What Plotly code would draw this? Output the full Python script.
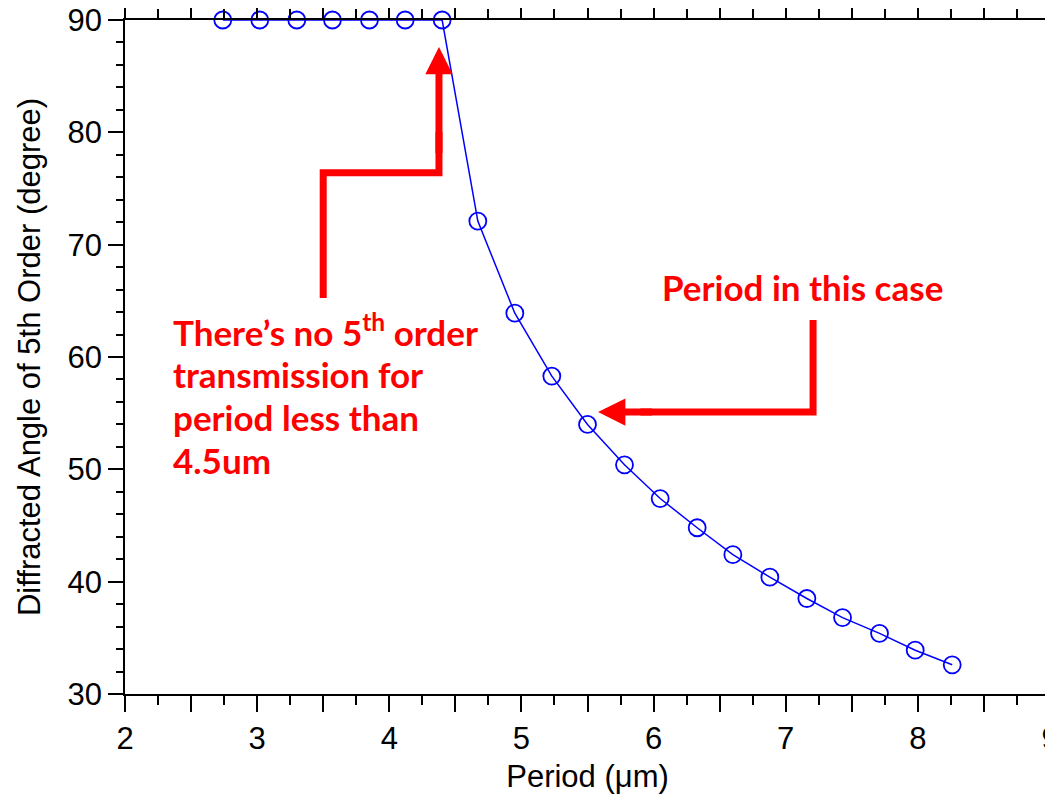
import plotly.graph_objects as go

# ── Data ────────────────────────────────────────────────────────────────────
period_um = [2.74, 3.02, 3.30, 3.57, 3.85, 4.12, 4.40, 4.67, 4.95, 5.23, 5.50,
             5.78, 6.05, 6.33, 6.60, 6.88, 7.16, 7.43, 7.71, 7.98, 8.26]
angle_deg = [90.0, 90.0, 90.0, 90.0, 90.0, 90.0, 90.0, 72.1, 63.9, 58.3, 54.0,
             50.4, 47.4, 44.8, 42.4, 40.4, 38.5, 36.8, 35.4, 33.9, 32.6]

x_tickvals = [2, 2.5, 3, 3.5, 4, 4.5, 5, 5.5, 6, 6.5, 7, 7.5, 8, 8.5, 9]
x_ticktext = ["2", "", "3", "", "4", "", "5", "", "6", "", "7", "", "8", "", "9"]

note_lines = ["There’s no 5<sup>th</sup> order", "transmission for",
              "period less than", "4.5um"]
note_case = "Period in this case"

RED = "#FF0000"
BLUE = "#0000FF"
AXIS_FONT = dict(family="Liberation Sans, Arial, sans-serif", size=31, color="black")
NOTE_FONT = "Lato, Calibri, sans-serif"

fig = go.Figure()

fig.add_trace(go.Scatter(
    x=period_um, y=angle_deg,
    mode="lines+markers",
    line=dict(color=BLUE, width=1.5),
    marker=dict(symbol="circle-open", size=17, color=BLUE, line=dict(width=1.8, color=BLUE)),
    cliponaxis=False,
    showlegend=False,
))

# ── Red call-out arrows ─────────────────────────────────────────────────────
fig.add_shape(type="path", xref="x", yref="y",
              path="M 3.5,65.25 L 3.5,76.4 L 4.376,76.4 L 4.376,80",
              line=dict(color=RED, width=7))
fig.add_annotation(x=4.376, y=87.6, ax=4.376, ay=78, xref="x", yref="y",
                   axref="x", ayref="y", text="", showarrow=True,
                   arrowhead=2, arrowsize=0.78, arrowwidth=7, arrowcolor=RED,
                   standoff=0)

fig.add_shape(type="path", xref="x", yref="y",
              path="M 7.207,63.3 L 7.207,55.1 L 5.9,55.1",
              line=dict(color=RED, width=7))
fig.add_annotation(x=5.58, y=55.1, ax=6.0, ay=55.1, xref="x", yref="y",
                   axref="x", ayref="y", text="", showarrow=True,
                   arrowhead=2, arrowsize=0.78, arrowwidth=7, arrowcolor=RED,
                   standoff=0)

# ── Red notes ───────────────────────────────────────────────────────────────
for i, line in enumerate(note_lines):
    fig.add_annotation(x=2.345, y=62.4 - i * 3.87, xref="x", yref="y",
                       text=f"<b>{line}</b>", showarrow=False,
                       xanchor="left", yanchor="middle",
                       font=dict(family=NOTE_FONT, size=35, color=RED))
fig.add_annotation(x=6.05, y=66.2, xref="x", yref="y",
                   text=f"<b>{note_case}</b>", showarrow=False,
                   xanchor="left", yanchor="middle",
                   font=dict(family=NOTE_FONT, size=35, color=RED))

# page body adds an 8px margin, so the figure is shrunk by that amount
fig.update_layout(
    width=1045, height=791,
    margin=dict(l=117, r=3, t=12, b=105),
    paper_bgcolor="white", plot_bgcolor="white",
    font=AXIS_FONT,
)
fig.update_xaxes(
    range=[2, 9], tickvals=x_tickvals, ticktext=x_ticktext,
    ticks="outside", ticklen=16, tickwidth=1.5, tickcolor="black",
    minor=dict(dtick=0.25, ticks="outside", ticklen=9, tickwidth=1.5, tickcolor="black"),
    showline=True, linecolor="black", linewidth=1.5, mirror="allticks",
    showgrid=False, zeroline=False, automargin=False, ticklabeloverflow="allow",
    title=dict(text="Period (μm)", font=AXIS_FONT, standoff=10),
)
fig.update_yaxes(
    range=[30, 90], dtick=10,
    ticks="outside", ticklen=15, tickwidth=1.5, tickcolor="black",
    minor=dict(dtick=2, ticks="outside", ticklen=7, tickwidth=1.5, tickcolor="black"),
    showline=True, linecolor="black", linewidth=1.5, mirror="allticks",
    showgrid=False, zeroline=False, automargin=False, ticklabeloverflow="allow",
    title=dict(text="Diffracted Angle of 5th Order (degree)", font=AXIS_FONT, standoff=18),
)

fig.write_html("out.html")
